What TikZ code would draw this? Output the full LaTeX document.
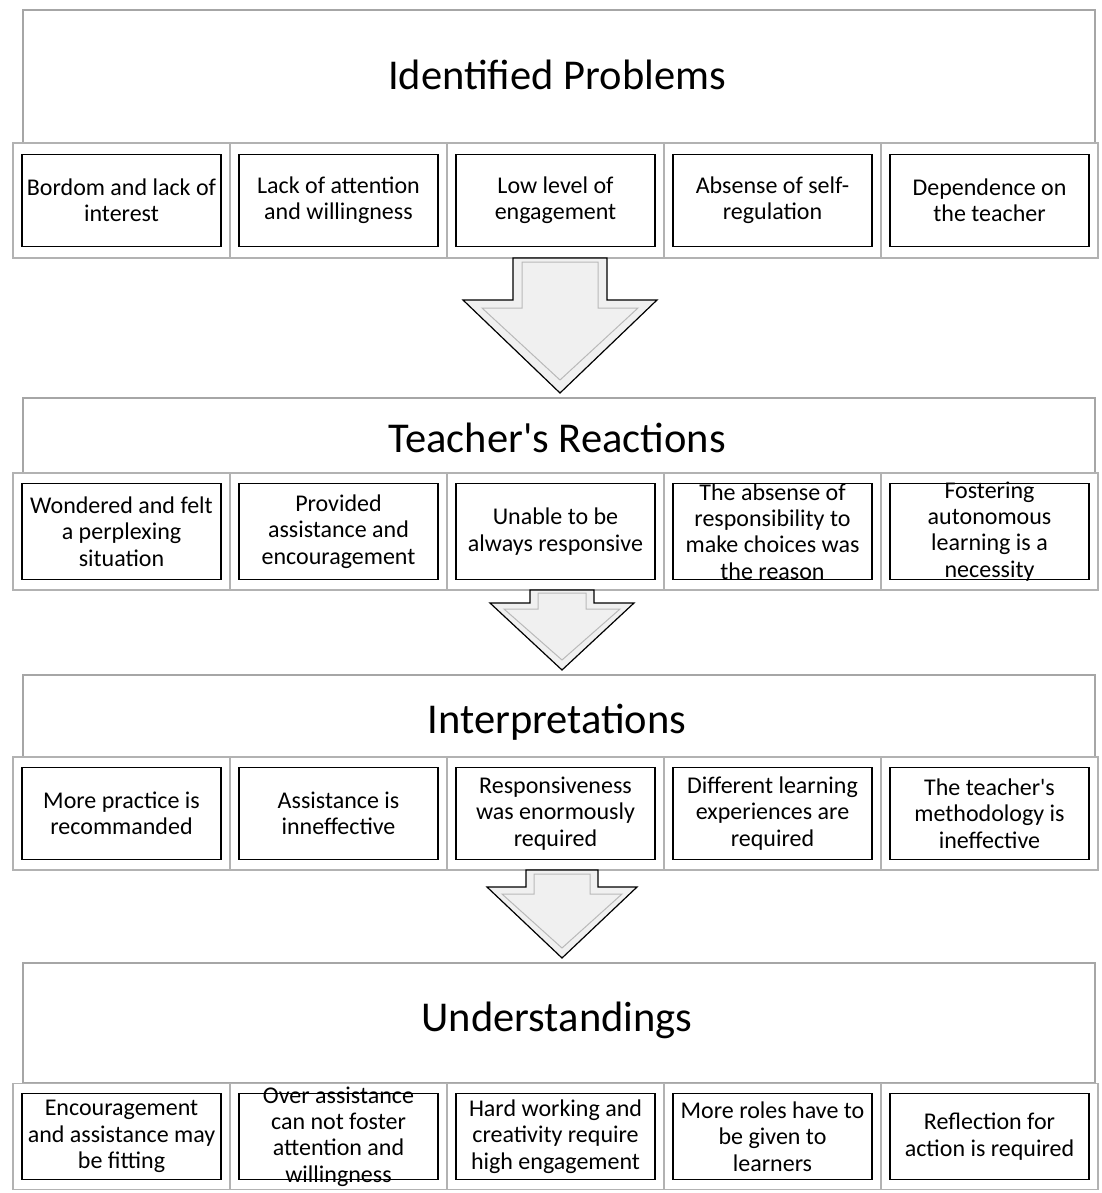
\documentclass[tikz,border=0pt]{standalone}
\usepackage{fontspec}
\setmainfont{Carlito}[Ligatures=TeXOff]
\begin{document}
\begin{tikzpicture}[x=1pt,y=-1pt,
  headbox/.style={draw=gray!70, line width=1.6pt, inner sep=0pt},
  headtext/.style={font=\fontsize{42.5}{48}\selectfont},
  cellbox/.style={draw=gray!60, line width=1.6pt, minimum width=217pt, inner sep=0pt},
  celltext/.style={align=center, inner sep=0pt, font=\fontsize{24}{26.3}\selectfont},
  innerbox/.style={celltext, draw=black, line width=1.3pt, minimum width=199pt},
  blockarrow/.style={draw=black, line width=1.2pt, fill=gray!12},
  blockinner/.style={draw=gray!55, line width=1pt}
]
\useasboundingbox (0,0) rectangle (1101,1193);
\fill[white] (0,0) rectangle (1101,1193);

% ---------- Section 1 ----------
\node[headbox, minimum width=1072pt, minimum height=133pt] (h1) at (559,76.5) {};
\node[headtext] (h1t) at (557,75) {Identified Problems};
\foreach \i/\x in {1/121.5,2/338.5,3/555.5,4/772.5,5/989.5}{
  \node[cellbox, minimum height=115pt] (r1c\i) at (\x,200.5) {};
}
\node[innerbox, minimum height=92pt] (r1i1) at (r1c1) {Bordom and lack of\\interest};
\node[innerbox, minimum height=92pt] (r1i2) at (r1c2) {Lack of attention\\and willingness};
\node[innerbox, minimum height=92pt] (r1i3) at (r1c3) {Low level of\\engagement};
\node[innerbox, minimum height=92pt] (r1i4) at (r1c4) {Absense of self-\\regulation};
\node[innerbox, minimum height=92pt] (r1i5) at (r1c5) {Dependence on\\the teacher};

% ---------- Section 2 ----------
\node[headbox, minimum width=1072pt, minimum height=75pt] (h2) at (559,435.5) {};
\node[headtext] (h2t) at (557,438) {Teacher's Reactions};
\foreach \i/\x in {1/121.5,2/338.5,3/555.5,4/772.5,5/989.5}{
  \node[cellbox, minimum height=117pt] (r2c\i) at (\x,531.5) {};
}
\node[innerbox, minimum height=96pt] (r2i1) at (r2c1) {Wondered and felt\\a perplexing\\situation};
\node[innerbox, minimum height=96pt] (r2i2) at (r2c2) {Provided\\assistance and\\encouragement};
\node[innerbox, minimum height=96pt] (r2i3) at (r2c3) {Unable to be\\always responsive};
\node[innerbox, minimum height=96pt] (r2i4) at (r2c4) {};
\node[celltext] (r2t4) at (r2c4) {The absense of\\responsibility to\\make choices was\\the reason};
\node[innerbox, minimum height=96pt] (r2i5) at (r2c5) {};
\node[celltext] (r2t5) at (r2c5) {Fostering\\autonomous\\learning is a\\necessity};

% ---------- Section 3 ----------
\node[headbox, minimum width=1072pt, minimum height=82pt] (h3) at (559,716) {};
\node[headtext] (h3t) at (557,722) {Interpretations};
\foreach \i/\x in {1/121.5,2/338.5,3/555.5,4/772.5,5/989.5}{
  \node[cellbox, minimum height=113pt] (r3c\i) at (\x,813.5) {};
}
\node[innerbox, minimum height=92pt] (r3i1) at (r3c1) {More practice is\\recommanded};
\node[innerbox, minimum height=92pt] (r3i2) at (r3c2) {Assistance is\\inneffective};
\node[innerbox, minimum height=92pt] (r3i3) at (r3c3) {Responsiveness\\was enormously\\required};
\node[innerbox, minimum height=92pt] (r3i4) at (r3c4) {Different learning\\experiences are\\required};
\node[innerbox, minimum height=92pt] (r3i5) at (r3c5) {The teacher's\\methodology is\\ineffective};

% ---------- Section 4 ----------
\node[headbox, minimum width=1072pt, minimum height=120pt] (h4) at (559,1023) {};
\node[headtext] (h4t) at (557,1020) {Understandings};
\foreach \i/\x in {1/121.5,2/338.5,3/555.5,4/772.5,5/989.5}{
  \node[cellbox, minimum height=106pt] (r4c\i) at (\x,1136.5) {};
}
\node[innerbox, minimum height=86pt] (r4i1) at (r4c1) {Encouragement\\and assistance may\\be fitting};
\node[innerbox, minimum height=86pt] (r4i2) at (r4c2) {};
\node[celltext] (r4t2) at (r4c2) {Over assistance\\can not foster\\attention and\\willingness};
\node[innerbox, minimum height=86pt] (r4i3) at (r4c3) {Hard working and\\creativity require\\high engagement};
\node[innerbox, minimum height=86pt] (r4i4) at (r4c4) {More roles have to\\be given to\\learners};
\node[innerbox, minimum height=86pt] (r4i5) at (r4c5) {Reflection for\\action is required};

% ---------- Block arrows ----------
% arrow 1
\coordinate (a1s) at (560,258);
\coordinate (a1e) at (560,393);
\draw[blockarrow] ([xshift=-47pt]a1s) -- ([xshift=47pt]a1s) -- (607,300) -- (657,300) -- (a1e) -- (463,300) -- (513,300) -- cycle;
\draw[blockinner] (522,262) -- (598,262) -- (598,308) -- (638,308) -- (560,380) -- (482,308) -- (522,308) -- cycle;
% arrow 2
\coordinate (a2s) at (562,590);
\coordinate (a2e) at (562,670);
\draw[blockarrow] ([xshift=-32pt]a2s) -- ([xshift=32pt]a2s) -- (594,603) -- (634,603) -- (a2e) -- (490,603) -- (530,603) -- cycle;
\draw[blockinner] (538,593) -- (586,593) -- (586,609) -- (620,609) -- (562,660) -- (504,609) -- (538,609) -- cycle;
% arrow 3
\coordinate (a3s) at (562,870);
\coordinate (a3e) at (562,958);
\draw[blockarrow] ([xshift=-36pt]a3s) -- ([xshift=36pt]a3s) -- (598,887) -- (637,887) -- (a3e) -- (487,887) -- (526,887) -- cycle;
\draw[blockinner] (534,874) -- (590,874) -- (590,894) -- (622,894) -- (562,948) -- (502,894) -- (534,894) -- cycle;
\end{tikzpicture}
\end{document}
